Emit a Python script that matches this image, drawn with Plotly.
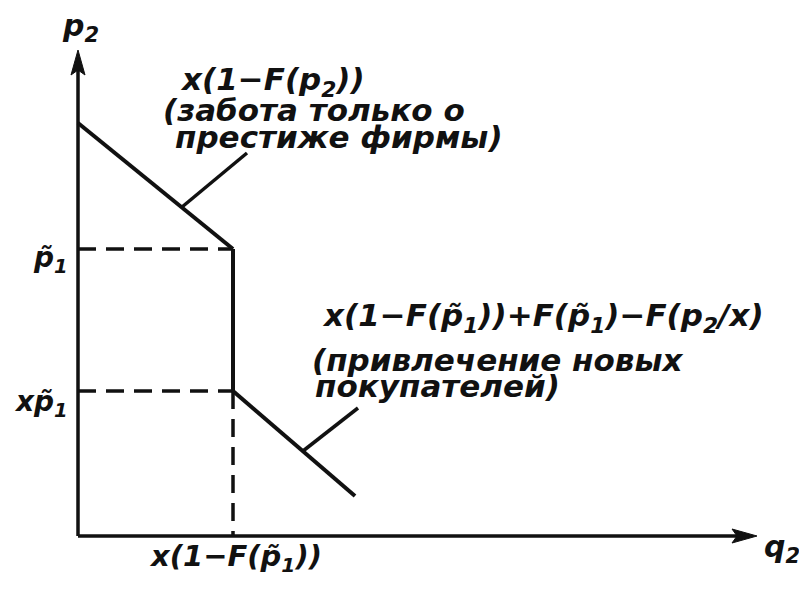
import plotly.graph_objects as go

# ---- data (one unit = 100 px on the final page) ----
q_axis_end = 6.79          # tip of the q2 axis
p_axis_end = 4.86          # tip of the p2 axis

p_intercept = 4.13         # x(1-F(p2)) meets the p2 axis
q_kink = 1.55              # x(1-F(p̃1))
p_tilde = 2.87             # p̃1
xp_tilde = 1.45            # x·p̃1
q_end = 2.77               # end of the lower branch
p_end = 0.40

upper_q = [0.0, q_kink]
upper_p = [p_intercept, p_tilde]
drop_q = [q_kink, q_kink]
drop_p = [p_tilde, xp_tilde]
lower_q = [q_kink, q_end]
lower_p = [xp_tilde, p_end]

leader1_q = [1.04, 1.69]
leader1_p = [3.29, 3.83]
leader2_q = [2.25, 2.80]
leader2_p = [0.85, 1.28]

note1 = ["x(1−F(p<sub>2</sub>))", "(забота только о", "престиже фирмы)"]
note2 = ["x(1−F(p̃<sub>1</sub>))+F(p̃<sub>1</sub>)−F(p<sub>2</sub>/x)",
         "(привлечение новых", "покупателей)"]

INK = "#111111"
LW = 4
FONT = dict(family="DejaVu Sans", size=31, color=INK, style="italic", weight="bold")

fig = go.Figure()

def seg(xs, ys, dash="solid", width=LW):
    fig.add_trace(go.Scatter(x=xs, y=ys, mode="lines",
                             line=dict(color=INK, width=width, dash=dash),
                             hoverinfo="skip", showlegend=False))

# arrow-head geometry (data units)
head_len, head_half, notch = 0.25, 0.07, 0.05

# axes
seg([0.0, q_axis_end - head_len + notch], [0.0, 0.0], width=3.5)
seg([0.0, 0.0], [0.0, p_axis_end - head_len + notch], width=3.5)

shapes = [
    dict(type="path", xref="x", yref="y", fillcolor=INK, line=dict(color=INK, width=1),
         path=(f"M {q_axis_end},0 L {q_axis_end - head_len},{head_half} "
               f"L {q_axis_end - head_len + notch},0 L {q_axis_end - head_len},{-head_half} Z")),
    dict(type="path", xref="x", yref="y", fillcolor=INK, line=dict(color=INK, width=1),
         path=(f"M 0,{p_axis_end} L {head_half},{p_axis_end - head_len} "
               f"L 0,{p_axis_end - head_len + notch} L {-head_half},{p_axis_end - head_len} Z")),
]

# dashed guide lines
seg([0.0, q_kink], [p_tilde, p_tilde], dash="18px,10px", width=3.5)
seg([0.0, q_kink], [xp_tilde, xp_tilde], dash="18px,10px", width=3.5)
seg([q_kink, q_kink], [xp_tilde, 0.0], dash="18px,10px", width=3.5)

# demand schedule
seg(upper_q, upper_p)
seg(drop_q, drop_p)
seg(lower_q, lower_p)

# leader lines to the notes
seg(leader1_q, leader1_p, width=3.5)
seg(leader2_q, leader2_p, width=3.5)

ann = []

def label(text, x, y, xanchor="left", size=31):
    f = dict(FONT)
    f["size"] = size
    ann.append(dict(x=x, y=y, xref="x", yref="y", text=text, showarrow=False,
                    xanchor=xanchor, yanchor="middle", font=f))

# axis names
label("p<sub>2</sub>", 0.02, 5.09, xanchor="center", size=30)
label("q<sub>2</sub>", 7.04, -0.12, xanchor="center", size=30)

# tick-like labels
label("p̃<sub>1</sub>", -0.08, p_tilde - 0.10, xanchor="right", size=28)
label("xp̃<sub>1</sub>", -0.08, xp_tilde - 0.12, xanchor="right", size=28)
label("x(1−F(p̃<sub>1</sub>))", q_kink + 0.02, -0.22, xanchor="center", size=29)

# notes
for txt, x, y in zip(note1, [1.00, 0.83, 0.95], [4.55, 4.26, 3.99]):
    label(txt, x, y)
for txt, x, y in zip(note2, [2.42, 2.32, 2.35], [2.19, 1.76, 1.50]):
    label(txt, x, y)

fig.update_layout(
    width=799, height=589,
    margin=dict(l=0, r=0, t=0, b=0),
    paper_bgcolor="white", plot_bgcolor="white",
    xaxis=dict(range=[-0.78, 7.21], visible=False, fixedrange=True),
    yaxis=dict(range=[-0.53, 5.36], visible=False, fixedrange=True),
    annotations=ann,
    shapes=shapes,
    showlegend=False,
)

fig.write_html("out.html")
